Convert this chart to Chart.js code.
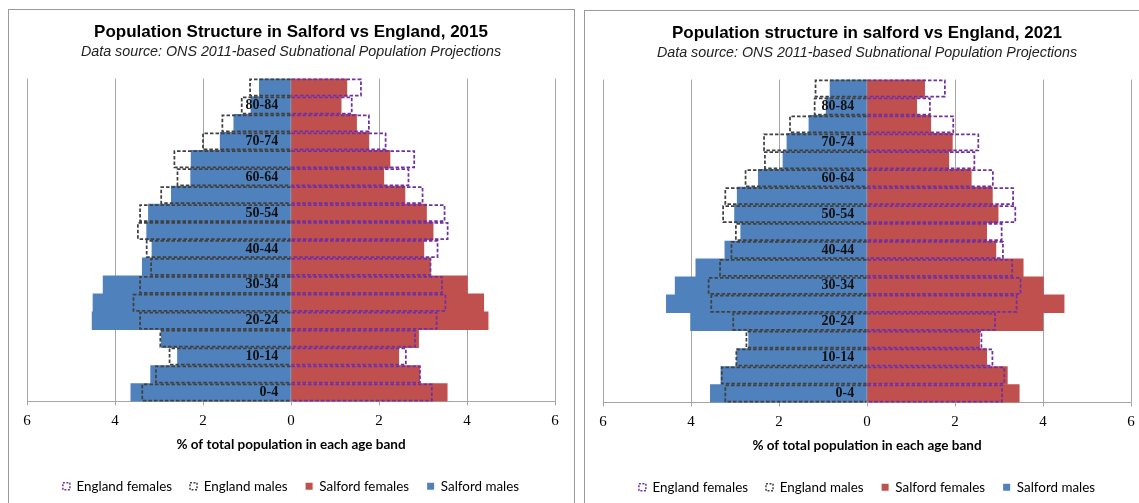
<!DOCTYPE html>
<html><head><meta charset="utf-8">
<script src="https://cdn.jsdelivr.net/npm/chart.js@4.4.1/dist/chart.umd.min.js"></script>
<style>
html,body{margin:0;padding:0;background:#fff;width:1139px;height:503px;overflow:hidden;}
.panel{position:absolute;border:1px solid #9a9a9a;background:#fff;width:565px;height:500px;}
#p1{left:8px;top:9px;}
#p2{left:584px;top:10px;}
canvas{display:block;}
</style></head><body>
<div class="panel" id="p1"><canvas id="c1" width="565" height="493"></canvas></div>
<div class="panel" id="p2"><canvas id="c2" width="565" height="493"></canvas></div>
<script>
const ageBands = ["0-4","5-9","10-14","15-19","20-24","25-29","30-34","35-39","40-44","45-49","50-54","55-59","60-64","65-69","70-74","75-79","80-84","85+"];
const xTicks = [-6,-4,-2,0,2,4,6];

// 2015 (% of total population, males negative)
const salfordMales2015   = [-3.64,-3.19,-2.58,-2.95,-4.52,-4.50,-4.27,-3.38,-3.16,-3.28,-3.24,-2.72,-2.28,-2.27,-1.61,-1.30,-0.91,-0.72];
const salfordFemales2015 = [3.55,2.93,2.45,2.90,4.48,4.38,4.01,3.17,3.02,3.23,3.08,2.59,2.11,2.25,1.77,1.49,1.14,1.27];
const englandMales2015   = [-3.38,-3.07,-2.76,-2.97,-3.43,-3.58,-3.43,-3.18,-3.28,-3.48,-3.43,-2.95,-2.58,-2.65,-2.00,-1.56,-1.12,-0.93];
const englandFemales2015 = [3.20,2.93,2.61,2.82,3.31,3.51,3.43,3.17,3.33,3.56,3.49,2.99,2.67,2.80,2.15,1.77,1.38,1.59];

// 2021
const salfordMales2021   = [-3.56,-3.32,-2.96,-2.69,-4.01,-4.56,-4.36,-3.89,-3.23,-2.87,-3.01,-2.95,-2.47,-1.91,-1.82,-1.32,-0.93,-0.84];
const salfordFemales2021 = [3.46,3.19,2.72,2.56,4.00,4.48,4.01,3.55,2.93,2.72,2.98,2.85,2.37,1.86,1.94,1.45,1.13,1.31];
const englandMales2021   = [-3.22,-3.30,-2.97,-2.74,-3.04,-3.54,-3.60,-3.34,-3.08,-2.98,-3.27,-3.22,-2.76,-2.32,-2.34,-1.75,-1.19,-1.17];
const englandFemales2021 = [3.07,3.12,2.85,2.60,2.91,3.40,3.49,3.30,3.09,3.06,3.37,3.32,2.86,2.44,2.53,1.96,1.43,1.77];

const titles = ["Population Structure in Salford vs England, 2015", "Population structure in salford vs England, 2021"];
const subtitleText = "Data source: ONS 2011-based Subnational Population Projections";
const axisTitle = "% of total population in each age band";

// draws dashed outlines (Excel style) for datasets flagged with dashColor, using the bar elements laid out by Chart.js
const dashedOutline = {
  id: 'dashedOutline',
  afterDatasetsDraw(chart) {
    const ctx = chart.ctx;
    chart.data.datasets.forEach((ds, i) => {
      if (!ds.dashColor) return;
      const meta = chart.getDatasetMeta(i);
      ctx.save();
      ctx.strokeStyle = ds.dashColor;
      ctx.lineWidth = 1.75;
      ctx.setLineDash([3.5, 2]);
      meta.data.forEach(el => {
        const p = el.getProps(['x', 'y', 'base', 'height'], true);
        const top = p.y - p.height / 2 + 0.9, bot = p.y + p.height / 2 - 0.9;
        ctx.beginPath();
        ctx.moveTo(p.base, top);
        ctx.lineTo(p.x, top);
        ctx.lineTo(p.x, bot);
        ctx.lineTo(p.base, bot);
        ctx.stroke();
      });
      ctx.restore();
    });
  }
};

function makeChart(id, title, sm, sf, em, ef) {
  return new Chart(document.getElementById(id), {
    type: 'bar',
    data: {
      labels: ageBands,
      datasets: [
        {label: 'England females', data: ef, order: 0, grouped: false, backgroundColor: 'rgba(0,0,0,0)', borderWidth: 0, dashColor: '#7030A0'},
        {label: 'England males', data: em, order: 1, grouped: false, backgroundColor: 'rgba(0,0,0,0)', borderWidth: 0, dashColor: '#404040'},
        {label: 'Salford females', data: sf, order: 2, grouped: false, backgroundColor: '#C0504D', borderWidth: 0},
        {label: 'Salford males', data: sm, order: 3, grouped: false, backgroundColor: '#4F81BD', borderWidth: 0}
      ]
    },
    plugins: [dashedOutline],
    options: {
      indexAxis: 'y',
      responsive: false,
      animation: false,
      layout: {padding: {left: 18, right: 19, top: 0, bottom: 0}},
      datasets: {bar: {categoryPercentage: 1, barPercentage: 1}},
      scales: {
        x: {
          min: -6, max: 6,
          afterBuildTicks: (s) => { s.ticks = xTicks.map(v => ({value: v})); },
          ticks: {callback: (v) => String(Math.abs(v)), font: {family: 'Liberation Serif', size: 15, lineHeight: 1}, color: '#000', padding: 8, maxRotation: 0},
          grid: {color: '#a6a6a6', lineWidth: 1, drawTicks: true, tickLength: 4, tickColor: '#a6a6a6'},
          border: {color: '#a6a6a6'},
          title: {display: true, text: axisTitle, font: {family: 'Lato', size: 13.5, weight: 'bold'}, color: '#000', padding: {top: 0, bottom: 9}}
        },
        y: {
          position: {x: -0.29},
          reverse: true,
          grid: {display: false},
          border: {display: false},
          ticks: {z: 1, autoSkip: false, padding: 0, color: '#111', font: {family: 'Liberation Serif', size: 14, weight: 'bold'},
            callback: function(v, i) { return i % 2 === 0 ? this.getLabelForValue(v) : ''; }}
        }
      },
      plugins: {
        title: {display: true, text: title, font: {family: 'Liberation Sans', size: 17, weight: 'bold'}, color: '#000', padding: {top: 12, bottom: 1}},
        subtitle: {display: true, text: subtitleText, font: {family: 'Liberation Sans', size: 14.3, style: 'italic'}, color: '#222', padding: {top: 0, bottom: 18}},
        legend: {position: 'bottom', labels: {boxWidth: 7, boxHeight: 7, padding: 18, font: {family: 'Lato', size: 13.4}, color: '#000',
          generateLabels: (chart) => {
            const items = Chart.defaults.plugins.legend.labels.generateLabels(chart);
            items.forEach(it => {
              const ds = chart.data.datasets[it.datasetIndex];
              if (ds.dashColor) {
                it.fillStyle = 'rgba(0,0,0,0)';
                it.strokeStyle = ds.dashColor;
                it.lineWidth = 1.5;
                it.lineDash = [2, 1.5];
              }
            });
            return items;
          }}},
        tooltip: {enabled: false}
      }
    }
  });
}

makeChart('c1', titles[0], salfordMales2015, salfordFemales2015, englandMales2015, englandFemales2015);
makeChart('c2', titles[1], salfordMales2021, salfordFemales2021, englandMales2021, englandFemales2021);
</script>
</body></html>
